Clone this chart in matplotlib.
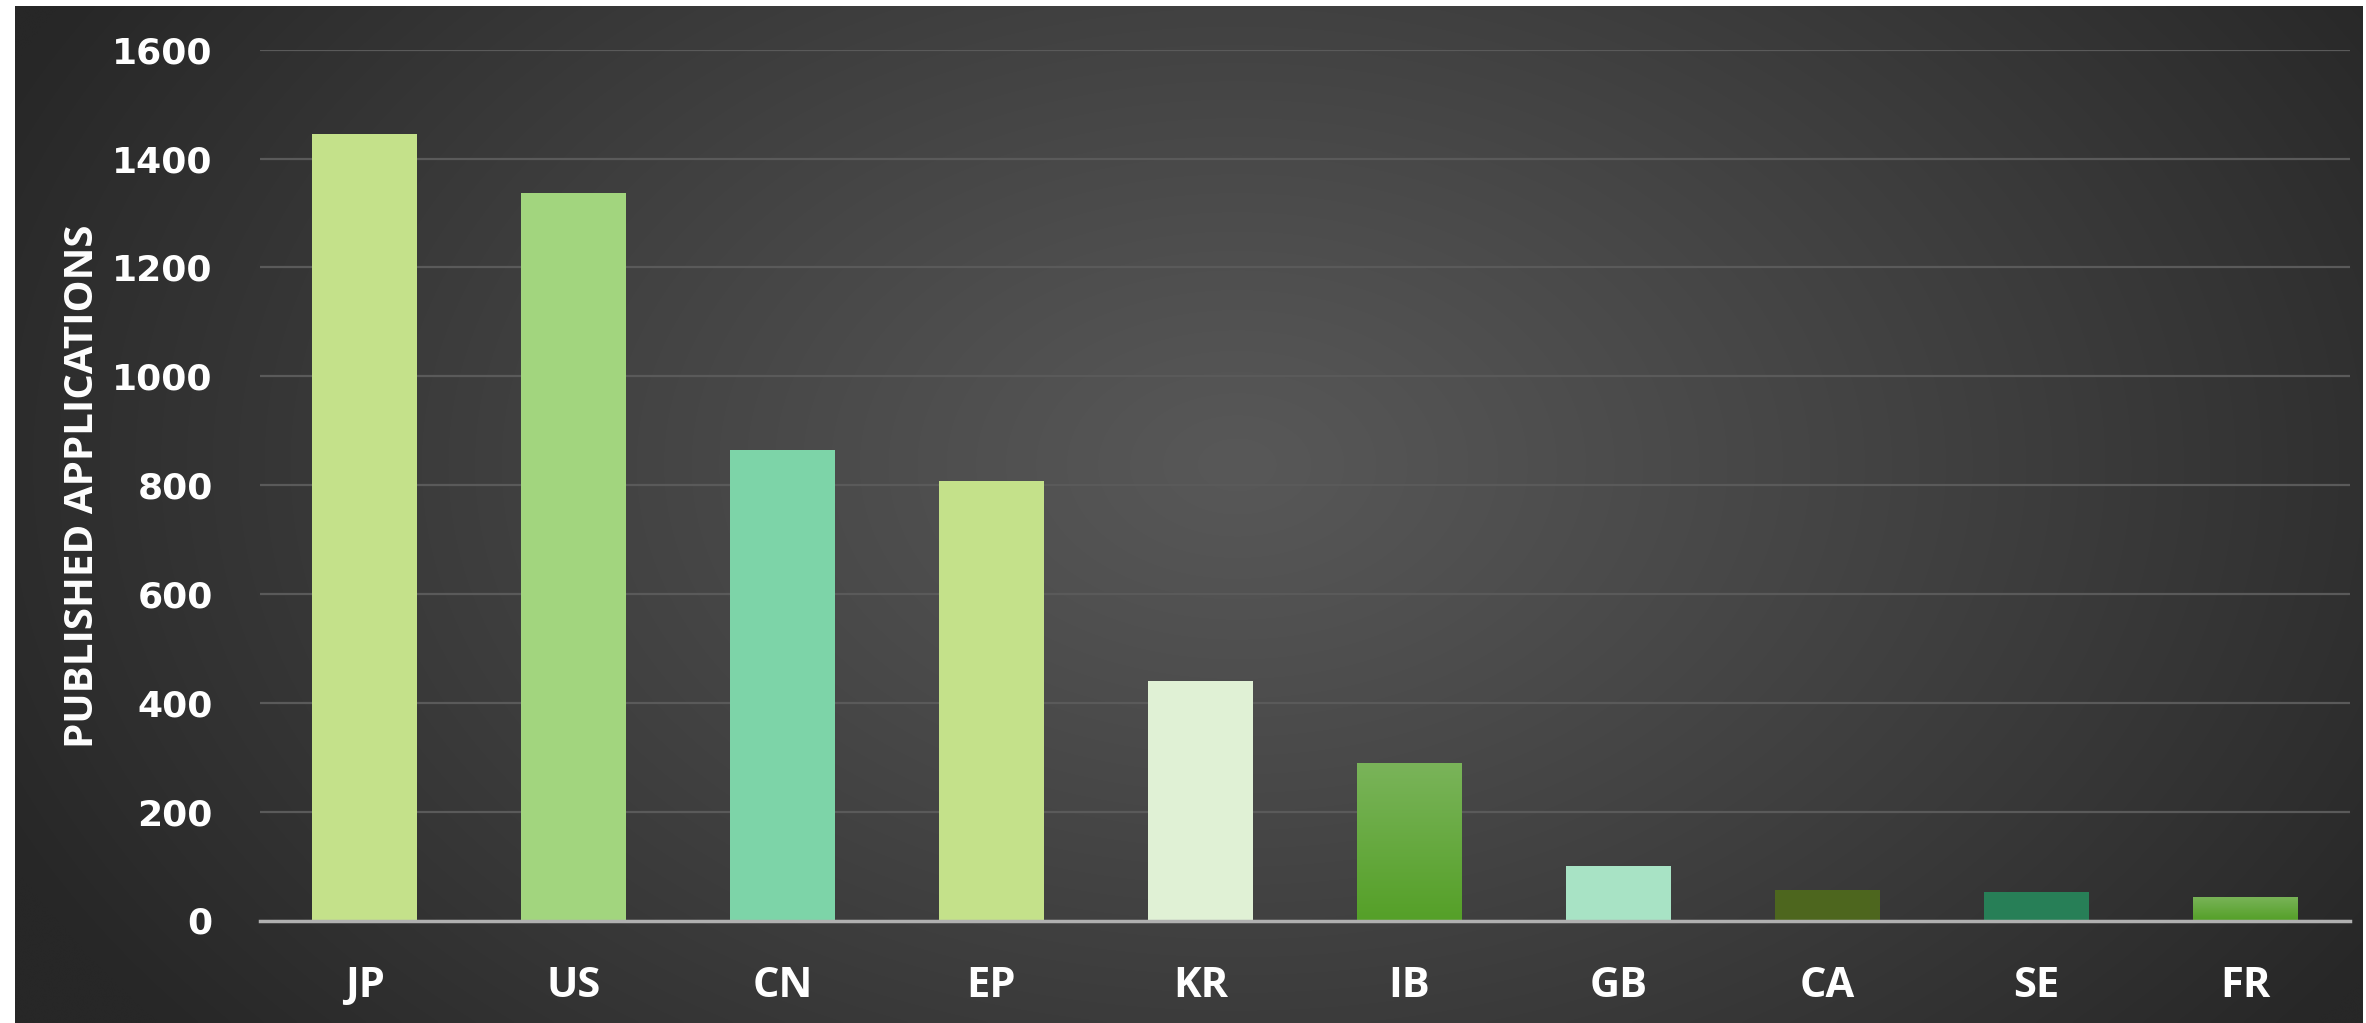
import numpy as np
import matplotlib
matplotlib.use("Agg")
import matplotlib.pyplot as plt
from matplotlib import font_manager
from matplotlib.colors import LinearSegmentedColormap

categories = ["JP", "US", "CN", "EP", "KR", "IB", "GB", "CA", "SE", "FR"]
values = [1445, 1336, 865, 807, 440, 289, 100, 56, 53, 44]
bar_colors = ["#C4E18A", "#A2D57E", "#7DD4A8", "#C4E18A", "#E0F1D5",
              "#62A834", "#A8E3C5", "#4D661E", "#277F57", "#62A834"]
gradient_bars = {"IB": ("#7AB45A", "#55A028"), "FR": ("#7AB45A", "#55A028")}
y_ticks = [0, 200, 400, 600, 800, 1000, 1200, 1400, 1600]
y_label = "PUBLISHED APPLICATIONS"

names = {f.name for f in font_manager.fontManager.ttflist}
narrow = "Liberation Sans Narrow" if "Liberation Sans Narrow" in names else "Open Sans"

W, H = 2366, 1023
fig = plt.figure(figsize=(W / 100, H / 100), dpi=100, facecolor="white")

# background radial gradient
bg = fig.add_axes([15 / W, 0, (W - 18) / W, (H - 6) / H])
bg.set_axis_off()
ny, nx = 400, 900
yy, xx = np.mgrid[0:ny, 0:nx]
cx, cy = 0.52 * nx, 0.45 * ny
d = np.sqrt(((xx - cx) / (nx * 0.55)) ** 2 + ((yy - cy) / (ny * 0.85)) ** 2)
t = np.clip(d / 1.05, 0, 1) ** 1.1
c0, c1 = 0x58 / 255, 0x27 / 255
img = c0 + (c1 - c0) * t
bg.imshow(np.dstack([img, img, img]), aspect="auto", extent=[0, 1, 0, 1],
          origin="upper", interpolation="bicubic")
bg.set_xlim(0, 1)
bg.set_ylim(0, 1)

ax = fig.add_axes([260 / W, 102.5 / H, 2090 / W, 870.7 / H])
ax.set_facecolor("none")
x = np.arange(len(categories))
bars = ax.bar(x, values, width=0.5, color=bar_colors, zorder=3)

for b, cat in zip(bars, categories):
    if cat in gradient_bars:
        top, bot = gradient_bars[cat]
        cmap = LinearSegmentedColormap.from_list("g", [bot, top])
        bb = b.get_bbox()
        grad = np.linspace(0, 1, 256).reshape(-1, 1)
        im = ax.imshow(grad, cmap=cmap, aspect="auto", origin="lower",
                       extent=[bb.x0, bb.x1, bb.y0, bb.y1], zorder=3.5)
        im.set_clip_path(b)

ax.set_xlim(-0.5, 9.5)
ax.set_ylim(0, 1600)
ax.set_yticks(y_ticks)
ax.set_xticks(x)
ax.set_xticklabels(categories)
ax.grid(axis="y", color="#5a5a5a", linewidth=1.6, zorder=1)
for s in ["top", "right", "left"]:
    ax.spines[s].set_visible(False)
ax.spines["bottom"].set_color("#b0b0b0")
ax.spines["bottom"].set_linewidth(2.5)
ax.spines["bottom"].set_zorder(4)
ax.tick_params(axis="both", length=0)
ax.tick_params(axis="y", pad=34, labelsize=26, labelcolor="white")
ax.tick_params(axis="x", pad=33, labelsize=30, labelcolor="white")
for lab in ax.get_yticklabels():
    lab.set_fontfamily("DejaVu Sans")
    lab.set_fontweight("bold")
for lab in ax.get_xticklabels():
    lab.set_fontfamily(narrow)
    lab.set_fontweight("bold")

fig.text(83 / W, 537 / H, y_label, rotation=90, ha="center", va="center",
         color="white", fontsize=29, fontfamily=narrow, fontweight="bold")

fig.savefig("out.png", dpi=100, facecolor="white")
